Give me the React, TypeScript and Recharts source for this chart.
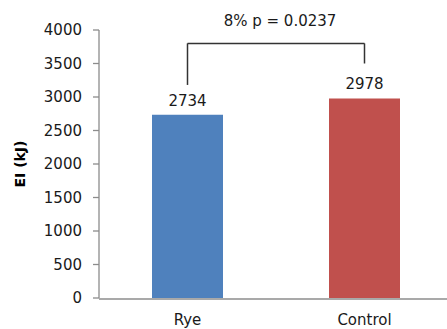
import React from 'react';
import { BarChart, Bar, XAxis, YAxis, LabelList, ReferenceLine, Cell } from 'recharts';

// Energy intake per group
const categories = ['Rye', 'Control'];
const energyIntake = [2734, 2978];
const barColors = ['#4F81BD', '#C0504D'];
const yTicks = [0, 500, 1000, 1500, 2000, 2500, 3000, 3500, 4000];
// category boundaries for the divider tick marks on the x axis
const dividerTicks = [0, 1, 2];
// significance bracket levels (kJ)
const bracketTop = 3800;
const bracketLeftEnd = 3180;
const bracketRightEnd = 3500;
const comparisonText = '8% p = 0.0237';

const data = categories.map((name, i) => ({ name, value: energyIntake[i] }));

const FONT = '"DejaVu Sans", sans-serif';
const AXIS = '#8c8c8c';
const INK = '#1a1a1a';
const FS = 15;

export default function App() {
  return (
    <div style={{ position: 'absolute', left: 0, top: 0, width: 447, height: 329, overflow: 'hidden', background: '#fff' }}>
      <BarChart
        width={460}
        height={329}
        data={data}
        margin={{ top: 30, right: 7, left: 0, bottom: 0 }}
        style={{ fontFamily: FONT }}
      >
        {/* category names; a thin band so the divider axis sits on the plot edge */}
        <XAxis
          xAxisId="cat"
          dataKey="name"
          axisLine={false}
          tickLine={false}
          tickSize={6}
          tickMargin={10}
          height={1}
          tick={{ fill: INK, fontSize: FS, fontFamily: FONT }}
        />
        {/* baseline with tick marks between categories */}
        <XAxis
          xAxisId="div"
          type="number"
          domain={[0, 2]}
          ticks={dividerTicks}
          tick={false}
          tickSize={7}
          height={30}
          axisLine={{ stroke: AXIS, strokeWidth: 1.3 }}
          tickLine={{ stroke: AXIS, strokeWidth: 1.3 }}
        />
        <YAxis
          domain={[0, 4000]}
          ticks={yTicks}
          interval={0}
          width={99}
          tickSize={6}
          tickMargin={11}
          axisLine={{ stroke: AXIS, strokeWidth: 1.3 }}
          tickLine={{ stroke: AXIS, strokeWidth: 1.3 }}
          tick={{ fill: INK, fontSize: FS, fontFamily: FONT }}
          label={{
            value: 'EI (kJ)',
            angle: -90,
            position: 'center',
            dx: -29,
            fill: '#000',
            fontSize: 14,
            fontWeight: 'bold',
            fontFamily: FONT,
          }}
        />
        <Bar xAxisId="cat" dataKey="value" barSize={71} isAnimationActive={false}>
          {data.map((d, i) => (
            <Cell key={d.name} fill={barColors[i]} />
          ))}
          <LabelList dataKey="value" position="top" offset={9} fill={INK} fontSize={FS} fontFamily={FONT} />
        </Bar>
        <ReferenceLine
          xAxisId="cat"
          segment={[
            { x: categories[0], y: bracketTop },
            { x: categories[1], y: bracketTop },
          ]}
          stroke="#333"
          strokeWidth={1.5}
          label={{ value: comparisonText, position: 'top', offset: 17, dx: 4, fill: INK, fontSize: FS, fontFamily: FONT }}
        />
        <ReferenceLine
          xAxisId="cat"
          segment={[
            { x: categories[0], y: bracketTop },
            { x: categories[0], y: bracketLeftEnd },
          ]}
          stroke="#333"
          strokeWidth={1.5}
        />
        <ReferenceLine
          xAxisId="cat"
          segment={[
            { x: categories[1], y: bracketTop },
            { x: categories[1], y: bracketRightEnd },
          ]}
          stroke="#333"
          strokeWidth={1.5}
        />
      </BarChart>
    </div>
  );
}
